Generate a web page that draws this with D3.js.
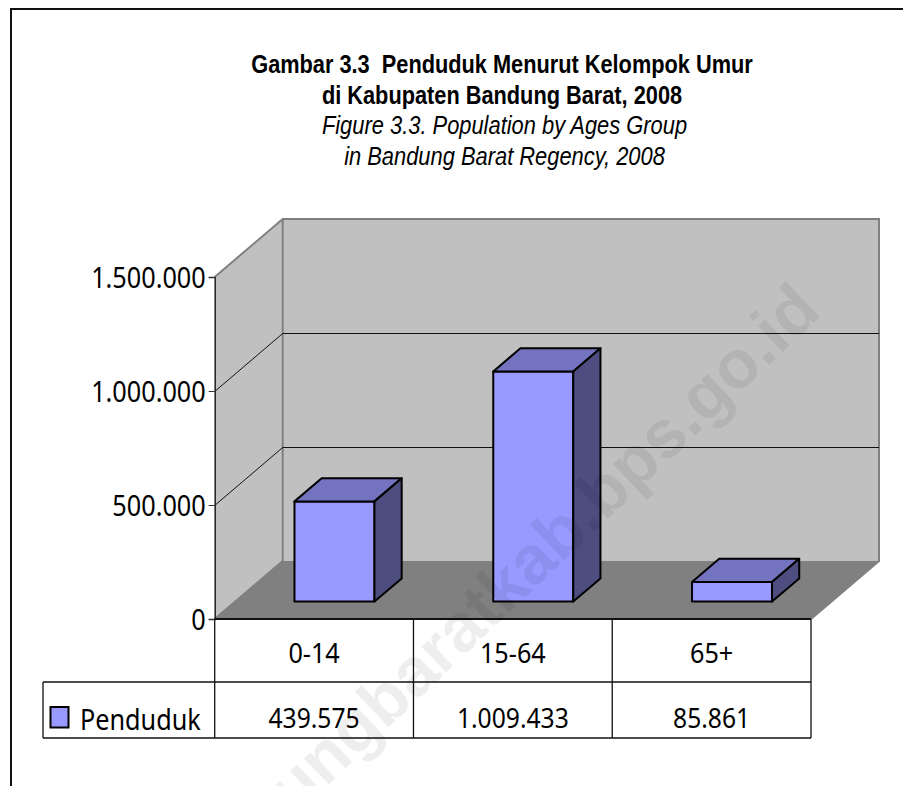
<!DOCTYPE html>
<html>
<head>
<meta charset="utf-8">
<script src="https://cdnjs.cloudflare.com/ajax/libs/d3/7.8.5/d3.min.js"></script>
<style>
  html, body { margin: 0; padding: 0; background: #fff; }
  svg { display: block; }
  .narrow { font-family: "Liberation Sans", sans-serif; }
  .label { font-family: "Noto Sans", sans-serif; fill: #000; }
</style>
</head>
<body>
<div id="vis"></div>
<script>
const categories = ['0-14', '15-64', '65+'];
const values = [439575, 1009433, 85861];
const valueLabels = ['439.575', '1.009.433', '85.861'];
const yTicks = [0, 500000, 1000000, 1500000];
const yTickLabels = ['0', '500.000', '1.000.000', '1.500.000'];
const seriesName = 'Penduduk';
const titleBold = ['Gambar 3.3  Penduduk Menurut Kelompok Umur', 'di Kabupaten Bandung Barat, 2008'];
const titleItalic = ['Figure 3.3. Population by Ages Group', 'in Bandung Barat Regency, 2008'];
const watermark = 'bungbaratkab.bps.go.id';

const width = 903, height = 786;
const plot = { left: 214.7, right: 811, bottom: 619, top: 277 };
const depth = { dx: 68, dy: -58 };   // back wall offset from the front plane
const barDepth = { start: 0.3, size: 0.4 };   // fractions of the floor depth
const barWidth = 80;
const rowBottoms = [682, 738];
const legendLeft = 43;

const svg = d3.select('#vis').append('svg')
    .attr('width', width)
    .attr('height', height);

const x = d3.scaleBand().domain(categories).range([plot.left, plot.right]);
const y = d3.scaleLinear().domain([0, 1500000]).range([plot.bottom, plot.top]);

// the original fonts are narrower than what is installed
function squeeze(sel, k) {
    sel.each(function() {
        d3.select(this)
            .attr('textLength', this.getComputedTextLength() * k)
            .attr('lengthAdjust', 'spacingAndGlyphs');
    });
}

// frame
svg.append('path')
    .attr('d', `M11,${height}V9H${width}`)
    .attr('fill', 'none')
    .attr('stroke', '#111')
    .attr('stroke-width', 2);

// title
const title = svg.append('g').attr('class', 'narrow').attr('text-anchor', 'middle');
title.selectAll('.bold').data(titleBold).join('text')
    .attr('class', 'bold')
    .attr('x', 502)
    .attr('y', (d, i) => 72.5 + i * 31)
    .attr('font-size', 25)
    .attr('font-weight', 'bold')
    .style('white-space', 'pre')
    .text(d => d)
    .call(squeeze, 0.87);
title.selectAll('.ital').data(titleItalic).join('text')
    .attr('class', 'ital')
    .attr('x', 504.5)
    .attr('y', (d, i) => 133.5 + i * 31)
    .attr('font-size', 25)
    .attr('font-style', 'italic')
    .text(d => d)
    .call(squeeze, 0.875);

// walls and floor
const wallTop = y(1500000), wallBot = y(0);
const backLeft = plot.left + depth.dx, backRight = plot.right + depth.dx;
const pts = a => a.map(p => p.join(',')).join(' ');

svg.append('polygon')
    .attr('points', pts([[plot.left, wallTop], [backLeft, wallTop + depth.dy], [backRight, wallTop + depth.dy], [backRight, wallBot + depth.dy], [backLeft, wallBot + depth.dy], [plot.left, wallBot]]))
    .attr('fill', '#c0c0c0');
svg.append('polygon')
    .attr('points', pts([[plot.left, wallBot], [backLeft, wallBot + depth.dy], [backRight, wallBot + depth.dy], [plot.right, wallBot]]))
    .attr('fill', '#808080');

// wall outlines
svg.append('path')
    .attr('d', `M${plot.left},${wallTop}L${backLeft},${wallTop + depth.dy}H${backRight}V${wallBot + depth.dy}L${plot.right},${wallBot}`)
    .attr('fill', 'none').attr('stroke', '#808080').attr('stroke-width', 2);
svg.append('path')
    .attr('d', `M${backLeft},${wallTop + depth.dy}V${wallBot + depth.dy}L${plot.left},${wallBot}`)
    .attr('fill', 'none').attr('stroke', '#808080').attr('stroke-width', 2);

// gridlines
const gridVals = yTicks.filter(d => d > 0 && d < 1500000);
svg.selectAll('.grid').data(gridVals).join('path')
    .attr('class', 'grid')
    .attr('transform', 'translate(0,0.5)')
    .attr('d', d => `M${plot.left},${y(d)}L${backLeft},${y(d) + depth.dy}H${backRight}`)
    .attr('fill', 'none').attr('stroke', '#111').attr('stroke-width', 1);

// bars
const sx = barDepth.start * depth.dx, sy = barDepth.start * depth.dy;
const bx = barDepth.size * depth.dx, by = barDepth.size * depth.dy;
const bars = svg.selectAll('.bar')
    .data(categories.map((c, i) => ({ c, v: values[i] })))
    .join('g')
    .attr('class', 'bar')
    .attr('stroke', '#000')
    .attr('stroke-width', 2)
    .attr('stroke-linejoin', 'round');

const bl = d => x(d.c) + (x.bandwidth() - barWidth) / 2 + sx;
bars.append('rect')
    .attr('x', bl)
    .attr('y', d => y(d.v) + sy)
    .attr('width', barWidth)
    .attr('height', d => y(0) - y(d.v))
    .attr('fill', '#9999ff');
bars.append('polygon')
    .attr('points', d => {
        const l = bl(d), t = y(d.v) + sy;
        return pts([[l, t], [l + bx, t + by], [l + barWidth + bx, t + by], [l + barWidth, t]]);
    })
    .attr('fill', '#7373bf');
bars.append('polygon')
    .attr('points', d => {
        const r = bl(d) + barWidth, t = y(d.v) + sy, b = y(0) + sy;
        return pts([[r, t], [r + bx, t + by], [r + bx, b + by], [r, b]]);
    })
    .attr('fill', '#4d4d80');

// y axis
const yAxis = d3.axisLeft(y)
    .tickValues(yTicks)
    .tickSize(6)
    .tickPadding(3)
    .tickFormat((d, i) => yTickLabels[i]);
const yG = svg.append('g')
    .attr('transform', `translate(${plot.left},0)`)
    .call(yAxis);
yG.select('.domain').attr('stroke', '#222').attr('stroke-width', 1.5);
yG.selectAll('.tick line').attr('stroke', '#333');
yG.selectAll('.tick text')
    .attr('class', 'label')
    .attr('font-size', 29)
    .attr('dy', '0.37em')
    .call(squeeze, 0.87);

// data table
const tableG = svg.append('g').attr('fill', 'none').attr('stroke', '#111').attr('stroke-width', 1.3);
tableG.append('path').attr('d', `M${plot.left},${plot.bottom}H${plot.right}`).attr('stroke-width', 2);
tableG.append('path').attr('d', `M${legendLeft},${rowBottoms[0]}H${plot.right}`);
tableG.append('path').attr('d', `M${legendLeft},${rowBottoms[1]}H${plot.right}`).attr('stroke-width', 1.5);
tableG.append('path').attr('d', `M${legendLeft},${rowBottoms[0]}V${rowBottoms[1]}`);
tableG.selectAll('.col').data([plot.left].concat(categories.map(c => x(c) + x.bandwidth()))).join('path')
    .attr('class', 'col')
    .attr('d', d => `M${d},${plot.bottom}V${rowBottoms[1]}`);

svg.selectAll('.cat').data(categories).join('text')
    .attr('class', 'cat label')
    .attr('x', d => x(d) + x.bandwidth() / 2)
    .attr('y', 663)
    .attr('text-anchor', 'middle')
    .attr('font-size', 28)
    .text(d => d)
    .call(squeeze, 0.9);
svg.selectAll('.val').data(valueLabels).join('text')
    .attr('class', 'val label')
    .attr('x', (d, i) => x(categories[i]) + x.bandwidth() / 2)
    .attr('y', 728)
    .attr('text-anchor', 'middle')
    .attr('font-size', 28)
    .text(d => d)
    .call(squeeze, 0.88);

// legend key
svg.append('rect')
    .attr('x', 50.5).attr('y', 707)
    .attr('width', 18).attr('height', 20.5)
    .attr('fill', '#9999ff')
    .attr('stroke', '#000').attr('stroke-width', 2);
svg.append('text')
    .attr('class', 'label')
    .attr('x', 80).attr('y', 730)
    .attr('font-size', 29)
    .text(seriesName)
    .call(squeeze, 0.87);

// watermark sits over everything
svg.append('text')
    .attr('transform', 'translate(265,845) rotate(-43.6)')
    .attr('font-family', '"Liberation Sans", sans-serif')
    .attr('font-weight', 'bold')
    .attr('font-size', 68)
    .attr('fill', '#000')
    .attr('fill-opacity', 0.065)
    .text(watermark);
</script>
</body>
</html>
